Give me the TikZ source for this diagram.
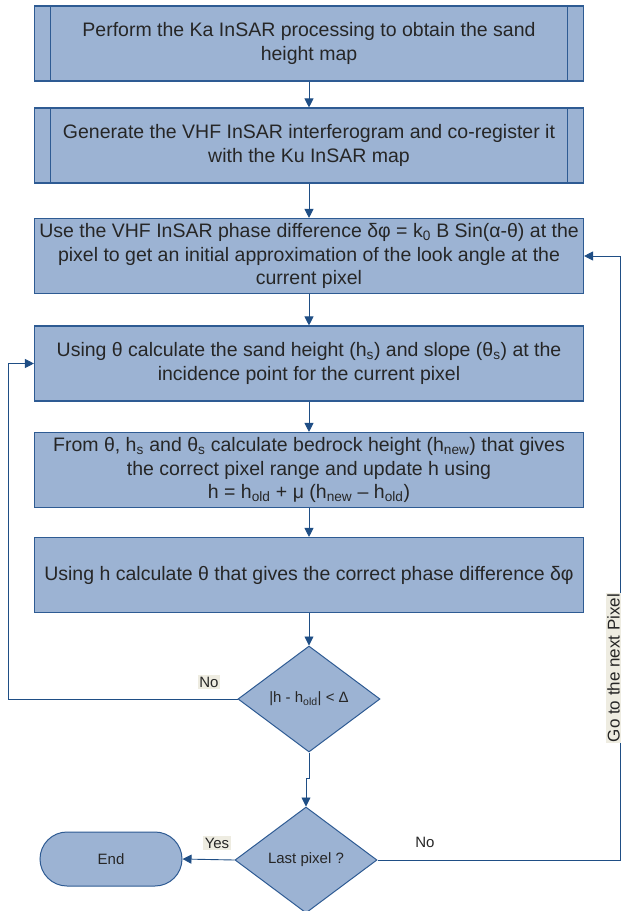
\documentclass[tikz,border=0pt]{standalone}
\usepackage{fontspec}
\setmainfont{Liberation Sans}
\usetikzlibrary{shapes.geometric,arrows.meta}

\definecolor{boxfill}{HTML}{9CB3D3}
\definecolor{boxline}{HTML}{2E5B93}
\definecolor{flowcol}{HTML}{1F4E85}
\definecolor{tagfill}{HTML}{EEECE1}
\definecolor{textcol}{HTML}{262626}

\tikzset{
  procbox/.style={draw=boxline, fill=boxfill, line width=1.1pt, minimum width=549pt,
    minimum height=75pt, inner sep=0pt, align=center, text=textcol,
    font=\fontsize{19.5}{23.5}\selectfont},
  decision/.style={diamond, draw=boxline, fill=boxfill, line width=1pt, minimum width=142pt,
    minimum height=106pt, inner sep=0pt, text=textcol, font=\fontsize{15}{18}\selectfont},
  terminal/.style={draw=boxline, fill=boxfill, line width=1pt, rounded corners=27pt,
    minimum width=142pt, minimum height=54pt, text=textcol, font=\fontsize{15}{18}\selectfont},
  flow/.style={draw=flowcol, line width=0.9pt, -{Triangle[width=9pt,length=9pt]}},
  tag/.style={fill=tagfill, inner sep=1.5pt, text=textcol, font=\fontsize{15}{18}\selectfont},
  notag/.style={inner sep=1.5pt, text=textcol, font=\fontsize{15}{18}\selectfont}
}

\begin{document}
\begin{tikzpicture}[x=1pt, y=-1pt]
    \useasboundingbox (0,0) rectangle (624,911);

    % process boxes
    \node[procbox] (b1) at (309,43.5) {Perform the Ka InSAR processing to obtain the sand\\height map};
    \node[procbox] (b2) at (309,145.5) {Generate the VHF InSAR interferogram and co-register it\\with the Ku InSAR map};
    \node[procbox] (b3) at (309,256) {Use the VHF InSAR phase difference δφ = k\textsubscript{0} B Sin(α-θ) at the\\pixel to get an initial approximation of the look angle at the\\current pixel};
    \node[procbox] (b4) at (309,363.5) {Using θ calculate the sand height (h\textsubscript{s}) and slope (θ\textsubscript{s}) at the\\incidence point for the current pixel};
    \node[procbox] (b5) at (309,470) {From θ, h\textsubscript{s} and θ\textsubscript{s} calculate bedrock height (h\textsubscript{new}) that gives\\the correct pixel range and update h using\\h = h\textsubscript{old} + μ (h\textsubscript{new} – h\textsubscript{old})};
    \node[procbox] (b6) at (309,575) {Using h calculate θ that gives the correct phase difference δφ};

    % side bars of the first two boxes
    \foreach \b in {b1,b2} {
        \draw[boxline, line width=1pt] ([xshift=17pt]\b.north west) -- ([xshift=17pt]\b.south west);
        \draw[boxline, line width=1pt] ([xshift=-17pt]\b.north east) -- ([xshift=-17pt]\b.south east);
    }

    % decisions and end
    \node[decision] (d1) at (309,699) {|h - h\textsubscript{old}| < Δ};
    \node[decision] (d2) at (306,860) {Last pixel ?};
    \node[terminal] (end) at (111,859) {End};

    % main flow
    \draw[flow] (b1) -- (b2);
    \draw[flow] (b2) -- (b3);
    \draw[flow] (b3) -- (b4);
    \draw[flow] (b4) -- (b5);
    \draw[flow] (b5) -- (b6);
    \draw[flow] (b6) -- (d1);
    \draw[flow] (d1.south) -- ++(0,26) -| (d2.north);
    \draw[flow] (d2.west) -- (end.east);

    % loops back
    \coordinate (lft) at (8,699);
    \coordinate (rgt) at (620,860);
    \draw[flow] (d1.west) -- (lft) |- (b4.west);
    \draw[flow] (d2.east) -- (rgt) |- (b3.east);

    % labels
    \node[tag] (no1) at (209,682) {No};
    \node[tag] (yes) at (217,843) {Yes};
    \node[notag] (no2) at (425,842) {No};
    \node[tag, rotate=90, inner sep=0.8pt] (next) at (613.5,668) {\fontsize{17}{20}\selectfont Go to the next Pixel};
\end{tikzpicture}
\end{document}
